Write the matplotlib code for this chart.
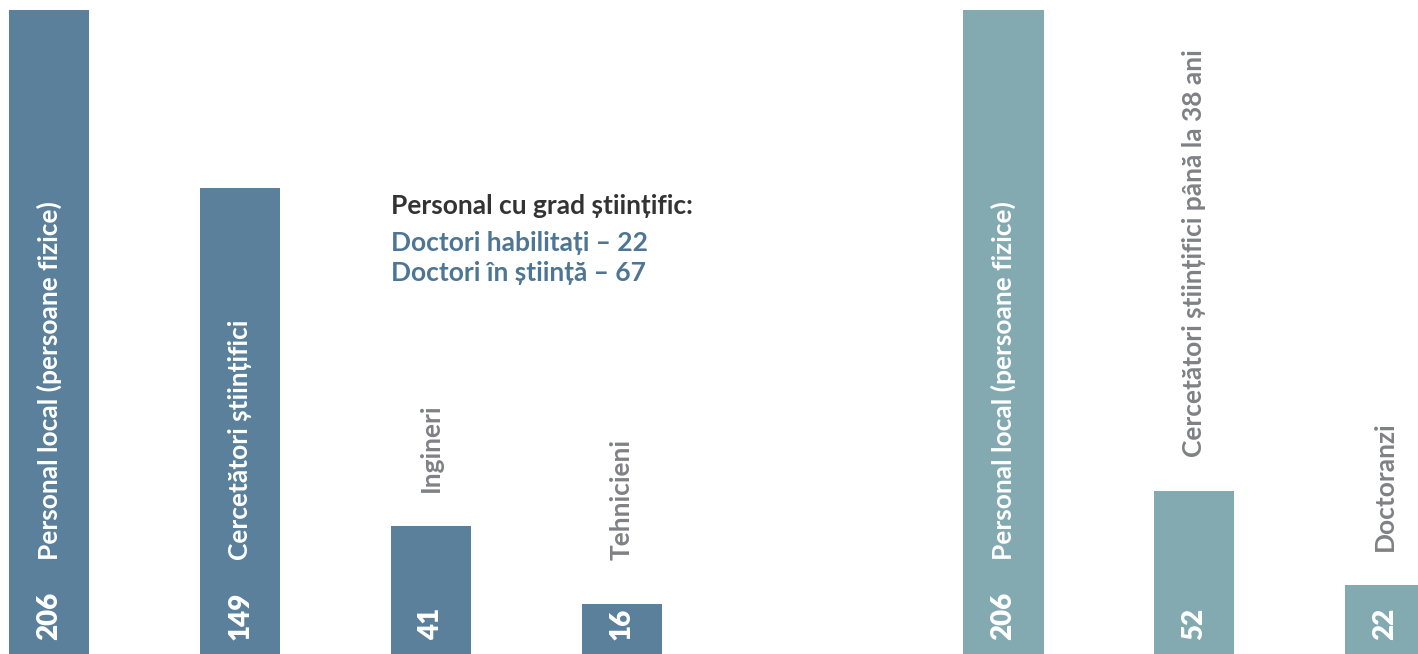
import matplotlib
matplotlib.use("Agg")
import matplotlib.pyplot as plt

# bar data (left group: staff, right group: young researchers / PhD students)
left_labels = ["Personal local (persoane fizice)", "Cercetători științifici", "Ingineri", "Tehnicieni"]
left_values = [206, 149, 41, 16]
right_labels = ["Personal local (persoane fizice)", "Cercetători științifici până la 38 ani", "Doctoranzi"]
right_values = [206, 52, 22]

note_title = "Personal cu grad științific:"
note_lines = ["Doctori habilitați – 22", "Doctori în știință – 67"]

LEFT_COLOR = "#5a809c"
RIGHT_COLOR = "#82aab0"
GREY = "#808184"
FONT = ["Lato", "DejaVu Sans"]

plt.rcParams["font.family"] = FONT

fig = plt.figure(figsize=(14.18, 6.54), dpi=100)
ax = fig.add_axes([0, 0, 1, 1])
ax.set_xlim(-0.259, 7.172)
ax.set_ylim(0, 209.2)
ax.axis("off")

positions = list(range(len(left_values))) + [p + len(left_values) + 1 for p in range(len(right_values))]
values = left_values + right_values
labels = left_labels + right_labels
colors = [LEFT_COLOR] * len(left_values) + [RIGHT_COLOR] * len(right_values)

ax.bar(positions, values, width=0.42, color=colors)

px_per_unit = 654 / 209.2
for x, v, lab in zip(positions, values, labels):
    ax.annotate(str(v), (x, 0), xytext=(0, 14), textcoords="offset pixels",
                rotation=90, ha="center", va="bottom", color="white",
                fontsize=20, fontweight="heavy")
    bar_px = v * px_per_unit
    if bar_px > 200:
        off, col = 94, "white"
    else:
        off, col = max(94, bar_px + 34), GREY
    ax.annotate(lab, (x, 0), xytext=(0, off), textcoords="offset pixels",
                rotation=90, ha="center", va="bottom", color=col,
                fontsize=19, fontweight="bold")

fig.text(391 / 1418, 1 - 206 / 654, note_title, color="#333333", fontsize=19,
         fontweight="bold", va="center", ha="left")
for i, line in enumerate(note_lines):
    fig.text(391 / 1418, 1 - (243 + 30 * i) / 654, line, color="#4d7594",
             fontsize=19, fontweight="bold", va="center", ha="left")

fig.savefig("out.png", dpi=100, facecolor="white")
